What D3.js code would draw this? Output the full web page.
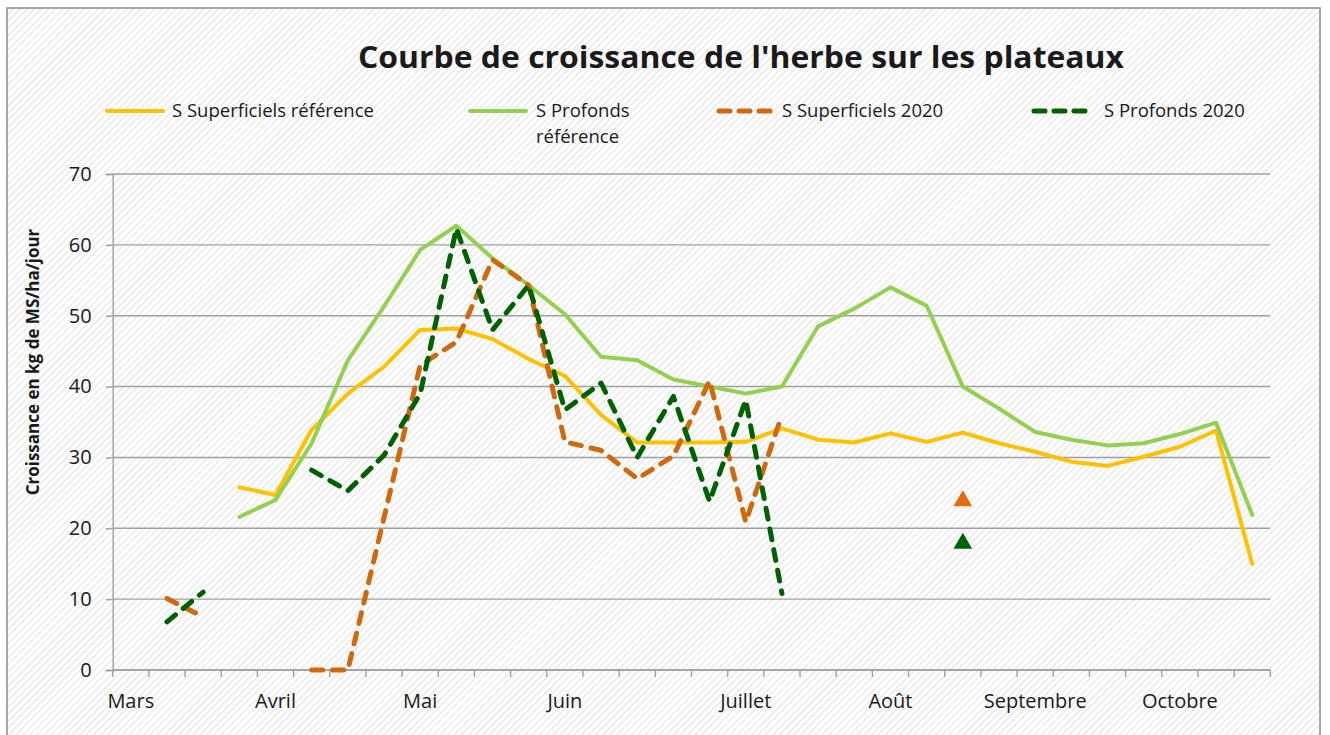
<!DOCTYPE html>
<html>
<head>
<meta charset="utf-8">
<script src="https://cdn.jsdelivr.net/npm/d3@7"></script>
<style>
  body { margin: 0; background: #fff; }
  text { font-family: "Open Sans", sans-serif; fill: #1a1a1a; }
</style>
</head>
<body>
<div id="chart"></div>
<script>
var width = 1330;
var height = 735;
var margin = {top: 174, right: 60, bottom: 65, left: 112.7};

// weekly categories, label only on the first week of each month
var weeks = ["Mars","","","","Avril","","","","Mai","","","","Juin","","","","","Juillet","","","","Août","","","","Septembre","","","","Octobre","",""];

var superRef = [null,null,null,25.8,24.7,33.9,39.0,42.8,48.0,48.2,46.7,43.9,41.5,36.0,32.1,32.1,32.1,32.2,34.1,32.5,32.1,33.4,32.2,33.5,32.0,30.8,29.4,28.8,30.1,31.5,33.8,15.0];
var profRef  = [null,null,null,21.6,24.0,32.0,43.7,51.3,59.3,62.7,58.1,54.3,50.2,44.2,43.7,41.0,40.0,39.0,40.0,48.5,51.0,54.0,51.4,40.0,36.9,33.6,32.5,31.7,32.0,33.3,34.9,21.9];
var super2020 = [null,10.1,7.5,null,null,0,0,21.5,43.0,46.3,57.9,54.3,32.2,31.0,27.0,30.2,40.8,20.9,36.0,null,null,null,null,null,null,null,null,null,null,null,null,null];
var prof2020  = [null,6.8,11.0,null,null,28.2,25.3,30.3,39.0,62.3,48.0,54.3,36.7,40.5,30.0,38.6,23.8,38.1,10.8,null,null,null,null,null,null,null,null,null,null,null,null,null];
// single marks at the last week of August
var superMark = [{week: 23, value: 24.0}];
var profMark  = [{week: 23, value: 18.0}];

var seriesNames = ["S Superficiels référence", "S Profonds référence", "S Superficiels 2020", "S Profonds 2020"];

var svg = d3.select("#chart").append("svg")
    .attr("width", width)
    .attr("height", height);

// hatched background like the Excel chart area
var defs = svg.append("defs");
var pat = defs.append("pattern")
    .attr("id", "hatch")
    .attr("patternUnits", "userSpaceOnUse")
    .attr("width", 5).attr("height", 5)
    .attr("patternTransform", "rotate(45)");
pat.append("rect").attr("width", 5).attr("height", 5).attr("fill", "#ffffff");
pat.append("line")
    .attr("x1", 0).attr("y1", 0).attr("x2", 0).attr("y2", 5)
    .attr("stroke", "#e6e6e6").attr("stroke-width", 2.6);

svg.append("rect").attr("width", width).attr("height", height).attr("fill", "#ffffff");
svg.append("rect")
    .attr("x", 7).attr("y", 8).attr("width", 1313).attr("height", 740)
    .attr("fill", "url(#hatch)")
    .attr("stroke", "#8c8c8c").attr("stroke-width", 1.5);

var xScale = d3.scaleBand().domain(d3.range(weeks.length)).range([margin.left, width - margin.right + 0.3]).padding(0);
var yScale = d3.scaleLinear().domain([0, 70]).range([height - margin.bottom, margin.top]);
var bw = xScale.bandwidth();
function cx(i) { return xScale(i) + bw / 2; }

// gridlines
svg.append("g")
    .selectAll("line")
    .data(yScale.ticks(7))
    .enter().append("line")
        .attr("x1", margin.left).attr("x2", xScale.range()[1])
        .attr("y1", function(d) { return yScale(d); })
        .attr("y2", function(d) { return yScale(d); })
        .attr("stroke", "#a0a0a0").attr("stroke-width", 1.4);

// y axis
var yAxis = d3.axisLeft(yScale).ticks(7).tickSize(7).tickPadding(14);
var gy = svg.append("g")
    .attr("transform", "translate(" + margin.left + ",0)")
    .call(yAxis);
gy.select(".domain").attr("stroke", "#a0a0a0").attr("stroke-width", 1.4);
gy.selectAll(".tick line").attr("stroke", "#a0a0a0").attr("stroke-width", 1.4);
gy.selectAll(".tick text").attr("font-size", 20).attr("font-family", "Open Sans").attr("fill", "#1a1a1a");

// x axis: labels centred on weeks, tick marks between weeks
var xAxis = d3.axisBottom(xScale)
    .tickFormat(function(i) { return weeks[i]; })
    .tickSize(0).tickPadding(24);
var gx = svg.append("g")
    .attr("transform", "translate(0," + yScale(0) + ")")
    .call(xAxis);
gx.select(".domain").remove();
gx.selectAll(".tick text").attr("font-size", 20).attr("font-family", "Open Sans").attr("fill", "#1a1a1a");
gx.append("line")
    .attr("x1", margin.left).attr("x2", xScale.range()[1])
    .attr("stroke", "#a0a0a0").attr("stroke-width", 1.4);
gx.selectAll(".sep")
    .data(d3.range(weeks.length + 1))
    .enter().append("line")
        .attr("class", "sep")
        .attr("x1", function(i) { return margin.left + i * bw; })
        .attr("x2", function(i) { return margin.left + i * bw; })
        .attr("y1", 0).attr("y2", 7)
        .attr("stroke", "#a0a0a0").attr("stroke-width", 1.4);

var line = d3.line()
    .defined(function(d) { return d != null; })
    .x(function(d, i) { return cx(i); })
    .y(function(d) { return yScale(d); });

var lines = [
    {values: superRef,  color: "#ffc000", dash: null},
    {values: profRef,   color: "#92d050", dash: null},
    {values: super2020, color: "#d0690e", dash: "11,10"},
    {values: prof2020,  color: "#006100", dash: "11,10"}
];

lines.forEach(function(s) {
    svg.append("path")
        .attr("d", line(s.values))
        .attr("fill", "none")
        .attr("stroke", s.color)
        .attr("stroke-width", s.dash ? 5 : 4)
        .attr("stroke-linejoin", "round")
        .attr("stroke-linecap", "round")
        .attr("stroke-dasharray", s.dash);
});

var tri = d3.symbol().type(d3.symbolTriangle).size(150);
[{data: superMark, color: "#e46c0a"}, {data: profMark, color: "#006100"}].forEach(function(m) {
    svg.selectAll(null)
        .data(m.data)
        .enter().append("path")
            .attr("d", tri)
            .attr("transform", function(d) { return "translate(" + cx(d.week) + "," + (yScale(d.value) + 1) + ")"; })
            .attr("fill", m.color);
});

// title
svg.append("text")
    .attr("x", 741).attr("y", 68)
    .attr("text-anchor", "middle")
    .attr("font-size", 30).attr("font-weight", "bold")
    .attr("textLength", 766).attr("lengthAdjust", "spacingAndGlyphs")
    .text("Courbe de croissance de l'herbe sur les plateaux");

// y title
svg.append("text")
    .attr("transform", "translate(39,362) rotate(-90)")
    .attr("text-anchor", "middle")
    .attr("font-size", 17).attr("font-weight", "bold")
    .text("Croissance en kg de MS/ha/jour");

// legend
var legendPos = [
    {lx: 105, tx: 172},
    {lx: 468, tx: 536},
    {lx: 717, tx: 782},
    {lx: 1032, tx: 1104}
];
var legend = svg.append("g");
lines.forEach(function(s, i) {
    var p = legendPos[i];
    legend.append("line")
        .attr("x1", p.lx + 2).attr("x2", p.lx + 58)
        .attr("y1", 111).attr("y2", 111)
        .attr("stroke", s.color)
        .attr("stroke-width", s.dash ? 5 : 4)
        .attr("stroke-linecap", "round")
        .attr("stroke-dasharray", s.dash ? "11,9" : null);
    var t = legend.append("text")
        .attr("x", p.tx).attr("y", 117)
        .attr("font-size", 18.5);
    if (i == 1) {
        t.text("S Profonds");
        legend.append("text").attr("x", p.tx).attr("y", 143).attr("font-size", 18.5).text("référence");
    } else {
        t.text(seriesNames[i]);
    }
});
</script>
</body>
</html>
